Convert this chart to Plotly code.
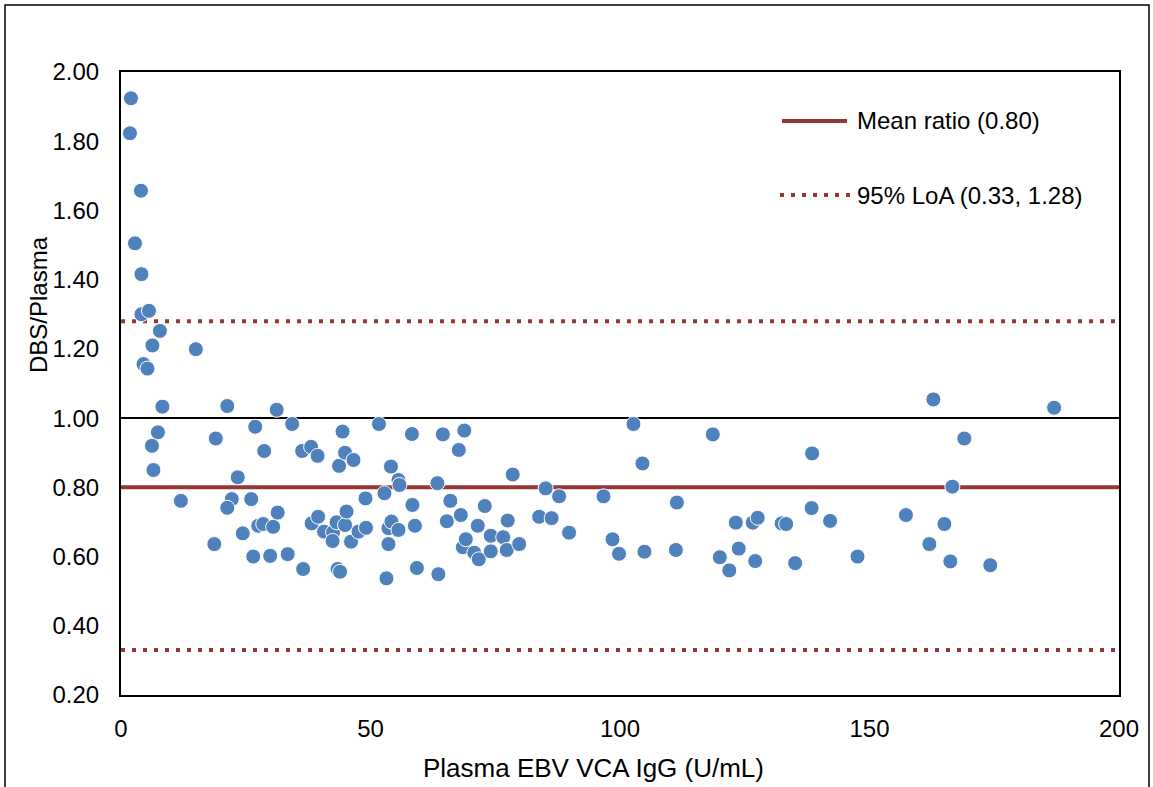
import plotly.graph_objects as go

# Plasma EBV VCA IgG (U/mL) and the DBS/Plasma ratio for each sample
plasma_igg = [
    2.0, 1.8, 4.0, 2.8, 4.1, 4.1, 5.6, 7.8, 6.3, 4.5, 5.3, 15.0, 8.3, 7.4, 6.2, 6.5, 12.0,
    18.7, 19.0, 21.3, 22.2, 21.3, 23.4, 24.4, 26.1, 26.9, 26.5, 27.5, 28.5, 28.7, 29.9,
    30.5, 31.2, 31.4, 33.4, 34.3, 36.3, 36.5, 38.1, 38.2, 39.4, 39.5, 40.7,
    42.5, 42.4, 43.2, 43.4, 43.9, 43.7, 44.4, 44.9, 44.9, 45.2, 46.1, 46.6, 47.6, 49.1,
    49.0, 51.7, 52.8, 53.2, 53.6, 53.6, 54.1, 54.2, 55.6, 55.8, 55.6, 58.3, 58.4, 58.9,
    59.3, 63.4, 63.6, 64.5, 65.3, 66.0, 67.7, 68.1, 68.5, 68.8, 69.1, 70.8, 71.5, 71.7,
    72.9, 74.1, 74.1, 76.6, 77.3, 77.5, 78.5, 79.8,
    85.1, 83.8, 86.3, 87.8, 89.8, 96.7, 98.5, 99.8, 102.7, 104.5, 104.9, 111.2, 111.4,
    118.6, 120.0, 121.9, 123.2, 123.8, 126.6, 127.1, 127.6, 132.4, 133.3, 135.1, 138.4,
    138.5, 142.1, 147.6, 157.3, 162.0, 162.8, 165.0, 166.2, 166.6, 169.0, 174.2, 187.0,
]
dbs_plasma_ratio = [
    1.924, 1.823, 1.657, 1.505, 1.416, 1.300, 1.310, 1.252, 1.210, 1.156, 1.143, 1.199,
    1.033, 0.959, 0.920, 0.850, 0.761,
    0.636, 0.941, 1.035, 0.766, 0.741, 0.829, 0.667, 0.766, 0.975, 0.600, 0.689, 0.694,
    0.905, 0.602, 0.686, 1.024, 0.727, 0.607, 0.983, 0.905, 0.564, 0.917, 0.696, 0.891,
    0.715, 0.672,
    0.670, 0.645, 0.699, 0.564, 0.556, 0.862, 0.961, 0.900, 0.691, 0.730, 0.643, 0.879,
    0.672, 0.683, 0.768, 0.983, 0.783, 0.537, 0.682, 0.636, 0.860, 0.701, 0.821, 0.807,
    0.677, 0.954, 0.749, 0.689, 0.567, 0.812, 0.549, 0.953, 0.702, 0.761, 0.908, 0.720,
    0.627, 0.964, 0.650, 0.611, 0.689, 0.592, 0.746, 0.660, 0.615, 0.656, 0.619, 0.704,
    0.837, 0.636,
    0.797, 0.715, 0.711, 0.774, 0.669, 0.774, 0.650, 0.608, 0.983, 0.869, 0.614, 0.619,
    0.756, 0.953, 0.598, 0.560, 0.698, 0.623, 0.698, 0.587, 0.712, 0.696, 0.694, 0.581,
    0.740, 0.898, 0.703, 0.600, 0.720, 0.636, 1.054, 0.694, 0.586, 0.802, 0.941, 0.575,
    1.030,
]

# Agreement statistics
mean_ratio = 0.80
loa_lower = 0.33
loa_upper = 1.28
unity_ratio = 1.00

x_range = [0, 200]
y_range = [0.20, 2.00]
y_ticks = [0.20, 0.40, 0.60, 0.80, 1.00, 1.20, 1.40, 1.60, 1.80, 2.00]
x_ticks = [0, 50, 100, 150, 200]

legend_labels = ["Mean ratio (0.80)", "95% LoA (0.33, 1.28)"]

RED = "#953735"
BLUE = "#4F81BD"
FONT = "Liberation Sans, Arial, sans-serif"

fig = go.Figure()

# Reference line at a ratio of 1
fig.add_trace(go.Scatter(
    x=x_range, y=[unity_ratio, unity_ratio], mode="lines",
    line=dict(color="black", width=2), hoverinfo="skip", showlegend=False,
))
# Mean ratio
fig.add_trace(go.Scatter(
    x=x_range, y=[mean_ratio, mean_ratio], mode="lines",
    line=dict(color=RED, width=4), hoverinfo="skip", showlegend=False,
))
# 95% limits of agreement
for lim in (loa_lower, loa_upper):
    fig.add_trace(go.Scatter(
        x=x_range, y=[lim, lim], mode="lines",
        line=dict(color=RED, width=4, dash="4px,7px"), hoverinfo="skip", showlegend=False,
    ))

# Samples
fig.add_trace(go.Scatter(
    x=plasma_igg, y=dbs_plasma_ratio, mode="markers",
    marker=dict(size=15, color=BLUE, line=dict(color="white", width=1)),
    showlegend=False,
))

PLOT_L, PLOT_R, PLOT_T, PLOT_B = 121, 1119, 72, 695
PW, PH = PLOT_R - PLOT_L, PLOT_B - PLOT_T


def px_x(p):
    return (p - PLOT_L) / PW


def px_y(p):
    return (PLOT_B - p) / PH


shapes = [
    # chart-area border
    dict(type="rect", xref="paper", yref="paper",
         x0=px_x(5), x1=px_x(1149), y0=px_y(820), y1=px_y(5),
         line=dict(color="black", width=1.5), layer="below"),
    # legend keys
    dict(type="line", xref="paper", yref="paper",
         x0=px_x(782), x1=px_x(847), y0=px_y(121), y1=px_y(121),
         line=dict(color=RED, width=4)),
    dict(type="line", xref="paper", yref="paper",
         x0=px_x(780), x1=px_x(850), y0=px_y(195), y1=px_y(195),
         line=dict(color=RED, width=4, dash="4px,7px")),
]

annotations = [
    dict(text=legend_labels[0], xref="paper", yref="paper", x=px_x(855), y=px_y(121),
         xanchor="left", yanchor="middle", showarrow=False,
         font=dict(family=FONT, size=24, color="black")),
    dict(text=legend_labels[1], xref="paper", yref="paper", x=px_x(855), y=px_y(195),
         xanchor="left", yanchor="middle", showarrow=False,
         font=dict(family=FONT, size=24, color="black")),
    dict(text="Plasma EBV VCA IgG (U/mL)", xref="paper", yref="paper",
         x=px_x(593), y=px_y(768), xanchor="center", yanchor="middle", showarrow=False,
         font=dict(family=FONT, size=26, color="black")),
    dict(text="DBS/Plasma", xref="paper", yref="paper", textangle=-90,
         x=px_x(38), y=px_y(305), xanchor="center", yanchor="middle", showarrow=False,
         font=dict(family=FONT, size=24, color="black")),
]

fig.update_layout(
    width=1153, height=787,
    margin=dict(l=PLOT_L, r=1153 - PLOT_R, t=PLOT_T, b=787 - PLOT_B),
    paper_bgcolor="white", plot_bgcolor="white",
    font=dict(family=FONT, color="black"),
    shapes=shapes, annotations=annotations,
    showlegend=False,
)
fig.update_xaxes(
    range=x_range, tickvals=x_ticks, ticks="", showgrid=False, zeroline=False,
    showline=True, mirror=True, linecolor="black", linewidth=2,
    tickfont=dict(family=FONT, size=24, color="black"), ticklabelstandoff=11,
)
fig.update_yaxes(
    range=y_range, tickvals=y_ticks, tickformat=".2f", ticks="", showgrid=False,
    zeroline=False, showline=True, mirror=True, linecolor="black", linewidth=2,
    tickfont=dict(family=FONT, size=24, color="black"), ticklabelstandoff=15,
)

fig.write_html("out.html")
